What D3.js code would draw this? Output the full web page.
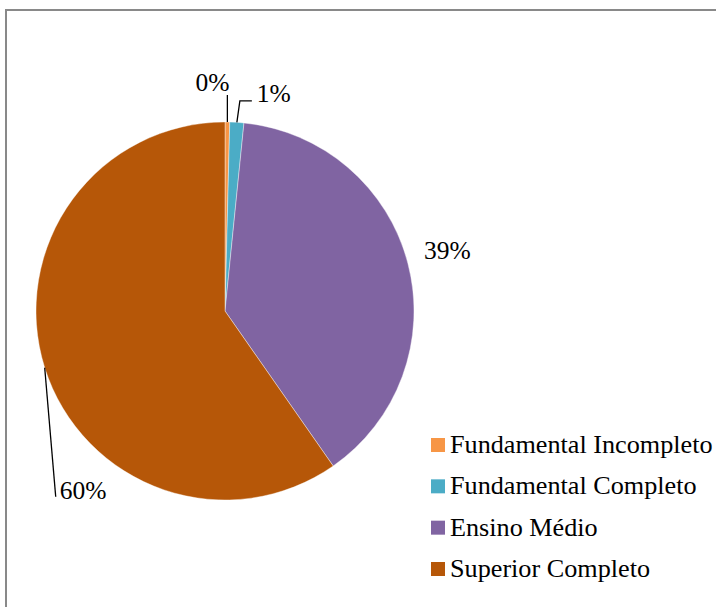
<!DOCTYPE html>
<html>
<head>
<meta charset="utf-8">
<script src="https://cdn.jsdelivr.net/npm/d3@7"></script>
<style>
  html, body { margin: 0; padding: 0; background: #fff; }
  svg { display: block; }
</style>
</head>
<body>
<svg id="chart" width="716" height="607"></svg>
<script>
// Escolaridade — share of respondents (%)
const categories = ["Fundamental Incompleto", "Fundamental Completo", "Ensino Médio", "Superior Completo"];
const values = [0.4, 1.2, 38.7, 59.7];
const colors = ["#F79646", "#4BACC6", "#8064A2", "#B65708"];

const FONT = "'Liberation Serif', 'Times New Roman', serif";

const svg = d3.select("#chart");
const W = 716, H = 607;

// outer frame (runs off the right and bottom edges)
svg.append("rect")
  .attr("x", 6).attr("y", 10)
  .attr("width", W + 20).attr("height", H + 20)
  .attr("fill", "#fff")
  .attr("stroke", "#898989")
  .attr("stroke-width", 2);

const cx = 225, cy = 311, R = 189;

const pie = d3.pie().sort(null).value(d => d.value);
const arcs = pie(categories.map((c, i) => ({ name: c, value: values[i], color: colors[i] })));
const arc = d3.arc().innerRadius(0).outerRadius(R);

const g = svg.append("g").attr("transform", `translate(${cx},${cy})`);

g.selectAll("path.slice")
  .data(arcs)
  .join("path")
  .attr("class", "slice")
  .attr("d", arc)
  .attr("fill", d => d.data.color)
  .attr("stroke", "#fff")
  .attr("stroke-width", 0.4);

// point on the rim at a slice's mid angle
function rim(d, r) {
  const a = (d.startAngle + d.endAngle) / 2;
  return [r * Math.sin(a), -r * Math.cos(a)];
}

// per-slice label placement: leader bends (relative to rim point) and text offset
const labelLayout = [
  { leader: [[0, -27]], text: [-15, -31], anchor: "middle" },
  { leader: [[3, -21.5], [15, -21.5]], text: [20, -20], anchor: "start" },
  { leader: null, text: [16, -4], anchor: "start" },
  { leader: [[11, 129]], text: [15, 131], anchor: "start" }
];

const fmt = v => Math.round(v) + "%";
const total = d3.sum(values);

arcs.forEach((d, i) => {
  const p = rim(d, R);
  const L = labelLayout[i];
  if (L.leader) {
    const pts = [p].concat(L.leader.map(o => [p[0] + o[0], p[1] + o[1]]));
    g.append("path")
      .attr("d", d3.line()(pts))
      .attr("fill", "none")
      .attr("stroke", "#000")
      .attr("stroke-width", 1.3);
  }
  g.append("text")
    .attr("x", p[0] + L.text[0])
    .attr("y", p[1] + L.text[1])
    .attr("text-anchor", L.anchor)
    .attr("font-family", FONT)
    .attr("font-size", 25.5)
    .attr("fill", "#000")
    .text(fmt(d.data.value / total * 100));
});

// legend
const ly = d3.scalePoint().domain(categories).range([453, 577]);
const legend = svg.append("g");
const items = legend.selectAll("g")
  .data(categories)
  .join("g")
  .attr("transform", d => `translate(431,${ly(d)})`);

items.append("rect")
  .attr("x", 0).attr("y", -15)
  .attr("width", 14).attr("height", 14)
  .attr("fill", (d, i) => colors[i]);

items.append("text")
  .attr("x", 19).attr("y", 0)
  .attr("font-family", FONT)
  .attr("font-size", 26.2)
  .attr("fill", "#000")
  .text(d => d);
</script>
</body>
</html>
